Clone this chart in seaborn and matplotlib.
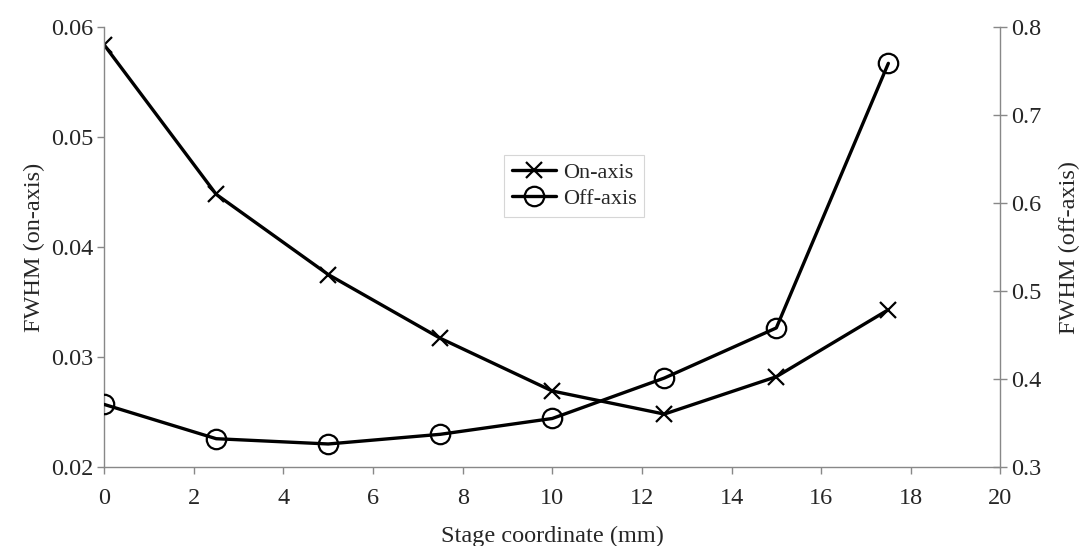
import matplotlib
matplotlib.use("Agg")
import matplotlib.pyplot as plt
import seaborn as sns

# values
stage_mm = [0, 2.5, 5, 7.5, 10, 12.5, 15, 17.5]
fwhm_on = [0.0584, 0.0448, 0.0375, 0.0317, 0.0269, 0.0248, 0.0282, 0.0343]
fwhm_off = [0.371, 0.332, 0.326, 0.337, 0.355, 0.401, 0.458, 0.759]

sns.set_style("white")
plt.rcParams['font.family'] = ['Liberation Serif', 'DejaVu Serif']
FS = 17.5

fig, ax = plt.subplots(figsize=(10.85, 5.46), dpi=100)
fig.subplots_adjust(left=0.096, right=0.922, top=0.95, bottom=0.145)
ax2 = ax.twinx()

sns.lineplot(x=stage_mm, y=fwhm_on, ax=ax, color='black', linewidth=2.4,
             marker='x', markersize=12, markeredgewidth=1.6, markeredgecolor='black',
             label='On-axis', legend=False)
sns.lineplot(x=stage_mm, y=fwhm_off, ax=ax2, color='black', linewidth=2.4,
             marker='o', markersize=14, markerfacecolor='none', markeredgecolor='black',
             markeredgewidth=1.6, label='Off-axis', legend=False)

ax.set_xlim(0, 20)
ax.set_ylim(0.02, 0.06)
ax2.set_ylim(0.3, 0.8)
ax.set_xticks(range(0, 21, 2))
ax.set_yticks([0.02, 0.03, 0.04, 0.05, 0.06])
ax2.set_yticks([0.3, 0.4, 0.5, 0.6, 0.7, 0.8])
ax.set_yticklabels(['0.02', '0.03', '0.04', '0.05', '0.06'])
ax2.set_yticklabels(['0.3', '0.4', '0.5', '0.6', '0.7', '0.8'])

ax.set_xlabel('Stage coordinate (mm)', fontsize=FS, labelpad=12)
ax.set_ylabel('FWHM (on-axis)', fontsize=FS, labelpad=4)
ax2.set_ylabel('FWHM (off-axis)', fontsize=FS, labelpad=12)

for a in (ax, ax2):
    for side in ('left', 'right', 'bottom'):
        a.spines[side].set_color('#888888')
        a.spines[side].set_linewidth(1.0)
    a.spines['top'].set_visible(False)
ax.spines['right'].set_visible(False)
ax2.spines['left'].set_visible(False)
ax2.spines['bottom'].set_visible(False)

ax.tick_params(axis='y', which='major', direction='out', length=5, width=1,
               color='#888888', labelsize=FS, pad=3, left=True)
ax.tick_params(axis='x', which='major', direction='out', length=5, width=1,
               color='#888888', labelsize=FS, pad=10, bottom=True)
ax2.tick_params(axis='y', direction='inout', length=10, width=1,
                color='#888888', labelsize=FS, pad=3, right=True)

h1, l1 = ax.get_legend_handles_labels()
h2, l2 = ax2.get_legend_handles_labels()
leg = ax.legend(h1 + h2, l1 + l2, loc='upper left', bbox_to_anchor=(0.446, 0.71),
                borderaxespad=0, fontsize=16, frameon=True, fancybox=False,
                edgecolor='#cccccc', handlelength=2.0, handletextpad=0.3,
                borderpad=0.35, labelspacing=0.25)
leg.get_frame().set_linewidth(0.8)

fig.savefig('out.png', dpi=100)
